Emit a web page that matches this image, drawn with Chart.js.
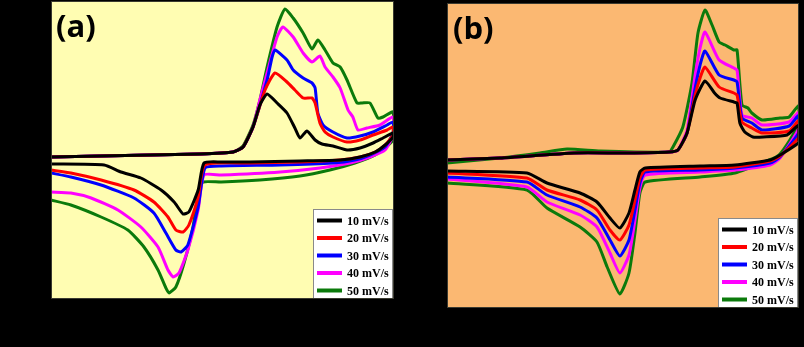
<!DOCTYPE html>
<html>
<head>
<meta charset="utf-8">
<title>CV scan rate comparison</title>
<script src="https://cdn.jsdelivr.net/npm/chart.js@4.4.1/dist/chart.umd.min.js"></script>
<style>
  html, body { margin: 0; padding: 0; background: #000; }
  body { width: 804px; height: 347px; position: relative; overflow: hidden; }
  .panel { position: absolute; }
  #panelA { left: 51px; top: 1px; }
  #panelB { left: 447px; top: 3px; }
</style>
</head>
<body>
<canvas id="panelA" class="panel" width="343" height="298"></canvas>
<canvas id="panelB" class="panel" width="352" height="305"></canvas>
<script>
// scan rates shown in both panels
const scanRates = ["10 mV/s", "20 mV/s", "30 mV/s", "40 mV/s", "50 mV/s"];

// potential (V, normalised) / current (mA) pairs: anodic sweep then cathodic return

// panel (a)
const cvA10 = [
  [0, -0.07], [0.143, -0.06], [0.289, -0.05], [0.434, -0.04], [0.531, -0.02], [0.560, 0.03],
  [0.589, 0.23], [0.609, 0.45], [0.630, 0.56], [0.659, 0.47], [0.688, 0.37], [0.711, 0.22],
  [0.726, 0.12], [0.746, 0.19], [0.770, 0.10], [0.790, 0.06], [0.822, 0.04], [0.863, 0.00],
  [0.901, 0.02], [0.939, 0.07], [0.968, 0.12], [0.997, 0.17],
  [0.997, 0.13], [0.974, 0.05], [0.945, -0.02], [0.901, -0.07], [0.843, -0.10], [0.726, -0.11],
  [0.580, -0.12], [0.496, -0.12], [0.446, -0.13], [0.429, -0.40], [0.402, -0.62], [0.385, -0.64],
  [0.359, -0.52], [0.321, -0.40], [0.262, -0.28], [0.204, -0.22], [0.155, -0.15], [0, -0.14]
];
const cvA20 = [
  [0, -0.07], [0.143, -0.06], [0.289, -0.05], [0.434, -0.04], [0.531, -0.02], [0.560, 0.03],
  [0.589, 0.23], [0.624, 0.60], [0.653, 0.77], [0.688, 0.68], [0.711, 0.60], [0.735, 0.52],
  [0.761, 0.52], [0.770, 0.47], [0.784, 0.27], [0.799, 0.18], [0.822, 0.13], [0.863, 0.08],
  [0.901, 0.10], [0.939, 0.15], [0.980, 0.20], [0.997, 0.23],
  [0.997, 0.15], [0.974, 0.05], [0.945, -0.02], [0.901, -0.07], [0.843, -0.10], [0.726, -0.12],
  [0.580, -0.13], [0.449, -0.15], [0.429, -0.47], [0.402, -0.75], [0.385, -0.82], [0.364, -0.80],
  [0.341, -0.67], [0.300, -0.52], [0.242, -0.40], [0.146, -0.30], [0.058, -0.23], [0, -0.20]
];
const cvA30 = [
  [0, -0.07], [0.143, -0.06], [0.289, -0.05], [0.434, -0.04], [0.531, -0.02], [0.560, 0.03],
  [0.589, 0.23], [0.630, 0.70], [0.644, 0.92], [0.653, 1.00], [0.688, 0.90], [0.706, 0.80],
  [0.735, 0.72], [0.761, 0.67], [0.770, 0.62], [0.778, 0.37], [0.793, 0.25], [0.822, 0.18],
  [0.863, 0.12], [0.901, 0.14], [0.939, 0.18], [0.980, 0.25], [0.997, 0.28],
  [0.997, 0.17], [0.974, 0.03], [0.930, -0.05], [0.886, -0.10], [0.822, -0.13], [0.668, -0.15],
  [0.496, -0.16], [0.449, -0.18], [0.429, -0.57], [0.399, -0.95], [0.379, -1.02], [0.364, -1.00],
  [0.335, -0.83], [0.300, -0.63], [0.242, -0.48], [0.146, -0.35], [0.058, -0.27], [0, -0.23]
];
const cvA40 = [
  [0, -0.07], [0.143, -0.06], [0.289, -0.05], [0.434, -0.04], [0.531, -0.02], [0.560, 0.03],
  [0.589, 0.23], [0.609, 0.50], [0.630, 0.77], [0.659, 1.13], [0.676, 1.23], [0.706, 1.13],
  [0.735, 0.97], [0.761, 0.88], [0.784, 0.94], [0.799, 0.83], [0.822, 0.73], [0.843, 0.62],
  [0.866, 0.40], [0.880, 0.33], [0.895, 0.20], [0.921, 0.22], [0.959, 0.25], [0.997, 0.33],
  [0.997, 0.15], [0.974, 0.00], [0.930, -0.07], [0.872, -0.13], [0.784, -0.18], [0.668, -0.22],
  [0.496, -0.25], [0.446, -0.25], [0.429, -0.60], [0.399, -1.00], [0.373, -1.23], [0.356, -1.27],
  [0.341, -1.20], [0.312, -0.97], [0.262, -0.77], [0.195, -0.60], [0.117, -0.48], [0.058, -0.43], [0, -0.42]
];
const cvA50 = [
  [0, -0.07], [0.289, -0.05], [0.434, -0.04], [0.531, -0.02], [0.560, 0.04], [0.589, 0.25],
  [0.609, 0.50], [0.630, 0.83], [0.659, 1.23], [0.682, 1.41], [0.706, 1.32], [0.735, 1.17],
  [0.761, 1.01], [0.778, 1.10], [0.799, 1.00], [0.822, 0.87], [0.843, 0.83], [0.863, 0.70],
  [0.892, 0.47], [0.907, 0.47], [0.930, 0.47], [0.953, 0.32], [0.968, 0.33], [0.997, 0.38],
  [0.997, 0.10], [0.945, -0.05], [0.886, -0.13], [0.813, -0.20], [0.726, -0.26], [0.609, -0.30],
  [0.496, -0.32], [0.443, -0.32], [0.431, -0.40], [0.414, -0.77], [0.388, -1.13], [0.364, -1.37],
  [0.344, -1.43], [0.335, -1.38], [0.312, -1.20], [0.271, -0.97], [0.224, -0.80], [0.146, -0.67],
  [0.058, -0.55], [0, -0.50]
];

// panel (b)
const cvB10 = [
  [0, -0.045], [0.151, -0.025], [0.361, 0.025], [0.511, 0.025], [0.631, 0.035], [0.656, 0.055],
  [0.682, 0.225], [0.705, 0.555], [0.733, 0.745], [0.760, 0.625], [0.776, 0.575], [0.815, 0.535],
  [0.824, 0.525], [0.832, 0.325], [0.846, 0.235], [0.869, 0.185], [0.898, 0.185], [0.966, 0.205], [1.0, 0.305],
  [1.0, 0.135], [0.946, 0.005], [0.918, -0.045], [0.818, -0.095], [0.719, -0.105], [0.563, -0.125],
  [0.548, -0.165], [0.534, -0.345], [0.517, -0.575], [0.491, -0.725], [0.463, -0.625], [0.426, -0.465],
  [0.378, -0.375], [0.284, -0.275], [0.227, -0.175], [0, -0.155]
];
const cvB20 = [
  [0, -0.045], [0.151, -0.025], [0.361, 0.025], [0.511, 0.025], [0.631, 0.035], [0.656, 0.055],
  [0.682, 0.225], [0.705, 0.605], [0.719, 0.775], [0.733, 0.885], [0.773, 0.685], [0.815, 0.625],
  [0.824, 0.605], [0.838, 0.335], [0.866, 0.275], [0.895, 0.225], [0.972, 0.245], [1.0, 0.355],
  [1.0, 0.185], [0.946, -0.005], [0.918, -0.055], [0.818, -0.115], [0.719, -0.125], [0.563, -0.145],
  [0.548, -0.225], [0.534, -0.445], [0.517, -0.695], [0.491, -0.845], [0.463, -0.745], [0.426, -0.545],
  [0.378, -0.445], [0.284, -0.345], [0.227, -0.225], [0, -0.175]
];
const cvB30 = [
  [0, -0.045], [0.151, -0.025], [0.361, 0.025], [0.511, 0.025], [0.631, 0.035], [0.656, 0.055],
  [0.682, 0.225], [0.705, 0.675], [0.719, 0.905], [0.733, 1.045], [0.773, 0.805], [0.815, 0.755],
  [0.824, 0.735], [0.838, 0.375], [0.866, 0.325], [0.895, 0.255], [0.972, 0.295], [1.0, 0.405],
  [1.0, 0.235], [0.946, -0.015], [0.918, -0.075], [0.818, -0.125], [0.719, -0.145], [0.563, -0.165],
  [0.548, -0.275], [0.534, -0.545], [0.517, -0.845], [0.491, -1.005], [0.463, -0.845], [0.426, -0.625],
  [0.378, -0.515], [0.284, -0.395], [0.227, -0.265], [0, -0.215]
];
const cvB40 = [
  [0, -0.045], [0.151, -0.025], [0.361, 0.025], [0.511, 0.025], [0.631, 0.035], [0.656, 0.055],
  [0.682, 0.255], [0.705, 0.805], [0.719, 1.075], [0.733, 1.235], [0.773, 0.955], [0.815, 0.875],
  [0.824, 0.855], [0.838, 0.405], [0.866, 0.375], [0.895, 0.305], [0.972, 0.335], [1.0, 0.435],
  [1.0, 0.275], [0.946, -0.025], [0.918, -0.095], [0.818, -0.145], [0.719, -0.165], [0.563, -0.195],
  [0.548, -0.325], [0.534, -0.645], [0.517, -0.995], [0.491, -1.175], [0.463, -0.975], [0.426, -0.715],
  [0.378, -0.595], [0.284, -0.465], [0.227, -0.315], [0, -0.235]
];
const cvB50 = [
  [0, -0.075], [0.151, -0.025], [0.264, 0.025], [0.341, 0.065], [0.435, 0.045], [0.631, 0.035],
  [0.642, 0.085], [0.670, 0.285], [0.696, 0.725], [0.713, 1.225], [0.733, 1.455], [0.753, 1.305],
  [0.773, 1.135], [0.790, 1.105], [0.815, 1.055], [0.824, 1.055], [0.838, 0.505], [0.855, 0.475],
  [0.866, 0.425], [0.895, 0.355], [0.946, 0.375], [0.972, 0.385], [1.0, 0.505],
  [1.0, 0.325], [0.974, 0.155], [0.943, 0.005], [0.915, -0.045], [0.818, -0.175], [0.719, -0.215],
  [0.563, -0.265], [0.548, -0.375], [0.534, -0.775], [0.517, -1.175], [0.491, -1.385], [0.455, -1.115],
  [0.426, -0.865], [0.378, -0.715], [0.284, -0.525], [0.227, -0.345], [0, -0.275]
];

const lineColors = ["#000000", "#ff0000", "#0000ff", "#ff00ff", "#0b7a0b"];

function toPoints(pairs) {
  return pairs.map(([e, i]) => ({ x: e, y: i }));
}

// plot area fill, panel letter and the framed legend in the lower right corner
const panelDecor = {
  id: "panelDecor",
  beforeDraw(chart, args, opts) {
    const { ctx, chartArea: a } = chart;
    ctx.save();
    ctx.fillStyle = opts.background;
    ctx.fillRect(a.left, a.top, a.right - a.left, a.bottom - a.top);
    ctx.restore();
  },
  afterDraw(chart, args, opts) {
    const { ctx, chartArea: a } = chart;
    ctx.save();

    ctx.fillStyle = "#000";
    ctx.font = "bold 31px 'Open Sans', sans-serif";
    ctx.textBaseline = "alphabetic";
    ctx.fillText(opts.letter, a.left + opts.letterX, a.top + opts.letterY);

    const boxW = 80, boxH = 90;
    const bx = a.right - boxW - 1, by = a.bottom - boxH;
    ctx.fillStyle = "#fff";
    ctx.fillRect(bx, by, boxW, boxH);
    ctx.strokeStyle = "#8a8a8a";
    ctx.lineWidth = 1;
    ctx.strokeRect(bx + 0.5, by + 0.5, boxW - 1, boxH);

    ctx.font = "bold 12px 'Liberation Serif', serif";
    ctx.textBaseline = "middle";
    chart.data.datasets.forEach((ds, k) => {
      const y = by + 11.5 + k * 17.5;
      ctx.strokeStyle = ds.borderColor;
      ctx.lineWidth = 4;
      ctx.beginPath();
      ctx.moveTo(bx + 4, y);
      ctx.lineTo(bx + 29, y);
      ctx.stroke();
      ctx.fillStyle = "#000";
      ctx.fillText(ds.label, bx + 34, y + 1);
    });

    ctx.strokeStyle = "#3a3a30";
    ctx.lineWidth = 1;
    ctx.strokeRect(a.left + 0.5, a.top + 0.5, a.right - a.left - 1, a.bottom - a.top - 1);
    ctx.restore();
  }
};

function buildPanel(canvasId, series, decor) {
  return new Chart(document.getElementById(canvasId), {
    type: "line",
    data: {
      datasets: series.map((pairs, k) => ({
        label: scanRates[k],
        data: toPoints(pairs),
        borderColor: lineColors[k],
        borderWidth: 3,
        pointRadius: 0,
        tension: 0.18,
        fill: false
      }))
    },
    options: {
      responsive: false,
      animation: false,
      layout: { padding: 0 },
      scales: {
        x: { type: "linear", min: 0, max: 1, display: false },
        y: { type: "linear", min: decor.yMin, max: decor.yMax, display: false }
      },
      plugins: {
        legend: { display: false },
        tooltip: { enabled: false },
        panelDecor: decor
      }
    },
    plugins: [panelDecor]
  });
}

buildPanel("panelA", [cvA10, cvA20, cvA30, cvA40, cvA50], {
  background: "#fffdb2", letter: "(a)", letterX: 5, letterY: 36, yMin: -1.49, yMax: 1.49
});
buildPanel("panelB", [cvB10, cvB20, cvB30, cvB40, cvB50], {
  background: "#fbb872", letter: "(b)", letterX: 6, letterY: 36, yMin: -1.525, yMax: 1.525
});
</script>
</body>
</html>
